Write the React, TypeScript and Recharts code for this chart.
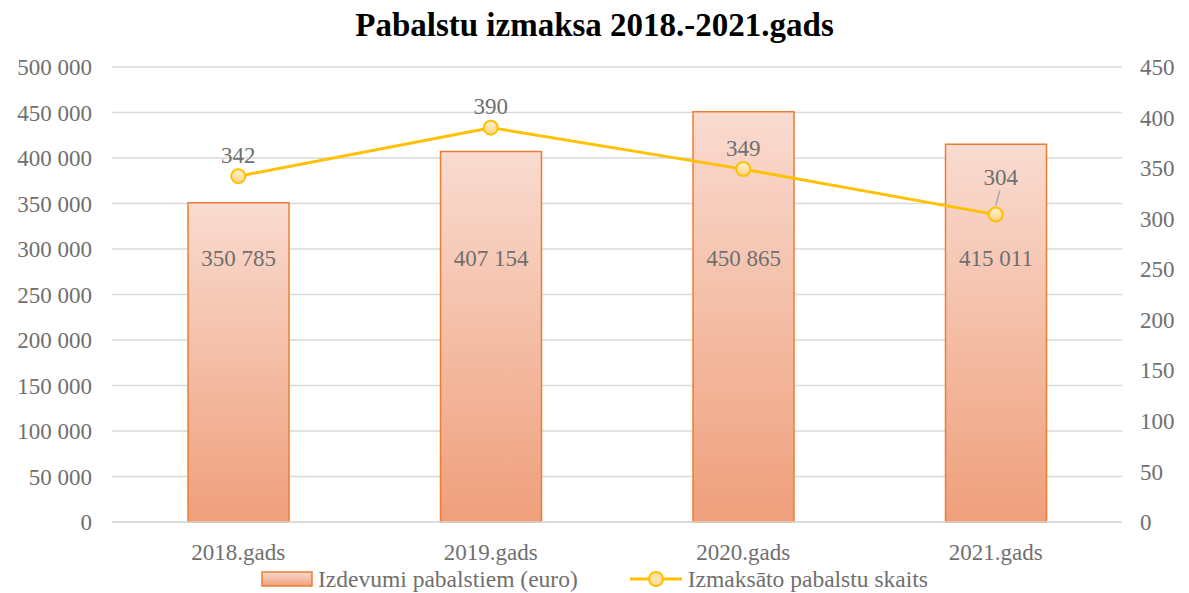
import React from "react";
import {
  ComposedChart,
  Bar,
  Line,
  XAxis,
  YAxis,
  CartesianGrid,
  Legend,
  LabelList,
} from "recharts";

const years = ["2018.gads", "2019.gads", "2020.gads", "2021.gads"];
const spending = [350785, 407154, 450865, 415011];
const recipients = [342, 390, 349, 304];
const leftTicks = [0, 50000, 100000, 150000, 200000, 250000, 300000, 350000, 400000, 450000, 500000];
const rightTicks = [0, 50, 100, 150, 200, 250, 300, 350, 400, 450];

const data = years.map((y, i) => ({ year: y, euro: spending[i], count: recipients[i] }));

const FONT = '"Liberation Serif", "Times New Roman", serif';
const GREY = "#6f6f6f";

const fmt = (v: number) => String(v).replace(/\B(?=(\d{3})+(?!\d))/g, " ");

// bar value labels sit at a fixed height above the category axis
const BarLabel = (props: any) => {
  const { x, y, width, height, value } = props;
  const bottom = y + height;
  return (
    <text
      x={x + width / 2}
      y={bottom - 264}
      textAnchor="middle"
      dominantBaseline="central"
      fill={GREY}
      fontSize={23}
      fontFamily={FONT}
    >
      {fmt(value)}
    </text>
  );
};

const LineLabel = (props: any) => {
  const { x, y, value, index } = props;
  if (index === 3) {
    return (
      <g>
        <line x1={x} y1={y - 9} x2={x + 4} y2={y - 24} stroke="#a6a6a6" strokeWidth={1.5} />
        <text x={x + 5} y={y - 37} textAnchor="middle" dominantBaseline="central" fill={GREY} fontSize={23} fontFamily={FONT}>
          {value}
        </text>
      </g>
    );
  }
  return (
    <text x={x} y={y - 21} textAnchor="middle" dominantBaseline="central" fill={GREY} fontSize={23} fontFamily={FONT}>
      {value}
    </text>
  );
};

const LegendContent = () => (
  <div
    style={{
      display: "flex",
      justifyContent: "center",
      alignItems: "center",
      boxSizing: "border-box",
      height: 30,
      paddingTop: 4,
      fontFamily: FONT,
      fontSize: 23.5,
      color: GREY,
      gap: 52,
    }}
  >
    <div style={{ display: "flex", alignItems: "center" }}>
      <svg width={52} height={16} style={{ marginRight: 5 }}>
        <defs>
          <linearGradient id="legBar" x1="0" y1="0" x2="0" y2="1">
            <stop offset="0%" stopColor="#f8d9cd" />
            <stop offset="100%" stopColor="#f0a07e" />
          </linearGradient>
        </defs>
        <rect x={1} y={1} width={50} height={14} fill="url(#legBar)" stroke="#ed7d31" strokeWidth={1.5} />
      </svg>
      <span>Izdevumi pabalstiem (euro)</span>
    </div>
    <div style={{ display: "flex", alignItems: "center" }}>
      <svg width={52} height={18} style={{ marginRight: 6 }}>
        <line x1={0} y1={9} x2={52} y2={9} stroke="#ffc000" strokeWidth={3} />
        <circle cx={26} cy={9} r={7} fill="#ffe3a6" stroke="#ffc000" strokeWidth={2} />
      </svg>
      <span>Izmaksāto pabalstu skaits</span>
    </div>
  </div>
);

export default function App() {
  return (
    <div style={{ position: "absolute", left: 0, top: 0, width: 1189, height: 593, background: "#fff" }}>
      <div
        style={{
          position: "absolute",
          top: 7,
          left: 0,
          width: 1189,
          textAlign: "center",
          fontFamily: FONT,
          fontWeight: "bold",
          fontSize: 33,
          color: "#000",
        }}
      >
        Pabalstu izmaksa 2018.-2021.gads
      </div>
      <ComposedChart
        width={1189}
        height={593}
        data={data}
        margin={{ top: 67, right: 0, left: 0, bottom: 1 }}
        barCategoryGap="30%"
      >
        <defs>
          <linearGradient id="barGrad" x1="0" y1="0" x2="0" y2="1">
            <stop offset="0%" stopColor="#f9dbd0" />
            <stop offset="100%" stopColor="#ef9f7b" />
          </linearGradient>
          <linearGradient id="dotGrad" x1="0" y1="0" x2="0" y2="1">
            <stop offset="0%" stopColor="#fff4d6" />
            <stop offset="100%" stopColor="#ffd27f" />
          </linearGradient>
        </defs>
        <CartesianGrid stroke="#d9d9d9" strokeWidth={1.5} vertical={false} yAxisId="left" />
        <XAxis
          dataKey="year"
          height={40}
          axisLine={{ stroke: "#d9d9d9", strokeWidth: 1.5 }}
          tickLine={false}
          tickMargin={16}
          tick={{ fill: GREY, fontSize: 23, fontFamily: FONT }}
        />
        <YAxis
          yAxisId="left"
          width={112}
          domain={[0, 500000]}
          ticks={leftTicks}
          tickFormatter={fmt}
          axisLine={false}
          tickLine={false}
          tickMargin={14}
          tick={{ fill: GREY, fontSize: 23, fontFamily: FONT }}
        />
        <YAxis
          yAxisId="right"
          orientation="right"
          width={67}
          domain={[0, 450]}
          ticks={rightTicks}
          axisLine={false}
          tickLine={false}
          tickMargin={12}
          tick={{ fill: GREY, fontSize: 23, fontFamily: FONT, textAnchor: "start" }}
        />
        <Legend verticalAlign="bottom" content={<LegendContent />} />
        <Bar
          yAxisId="left"
          dataKey="euro"
          barSize={101}
          fill="url(#barGrad)"
          stroke="#ed7d31"
          strokeWidth={1.5}
          isAnimationActive={false}
        >
          <LabelList dataKey="euro" content={<BarLabel />} />
        </Bar>
        <Line
          yAxisId="right"
          dataKey="count"
          stroke="#ffc000"
          strokeWidth={3}
          dot={{ r: 7, fill: "url(#dotGrad)", stroke: "#ffc000", strokeWidth: 2 }}
          activeDot={false}
          isAnimationActive={false}
        >
          <LabelList dataKey="count" content={<LineLabel />} />
        </Line>
      </ComposedChart>
    </div>
  );
}
